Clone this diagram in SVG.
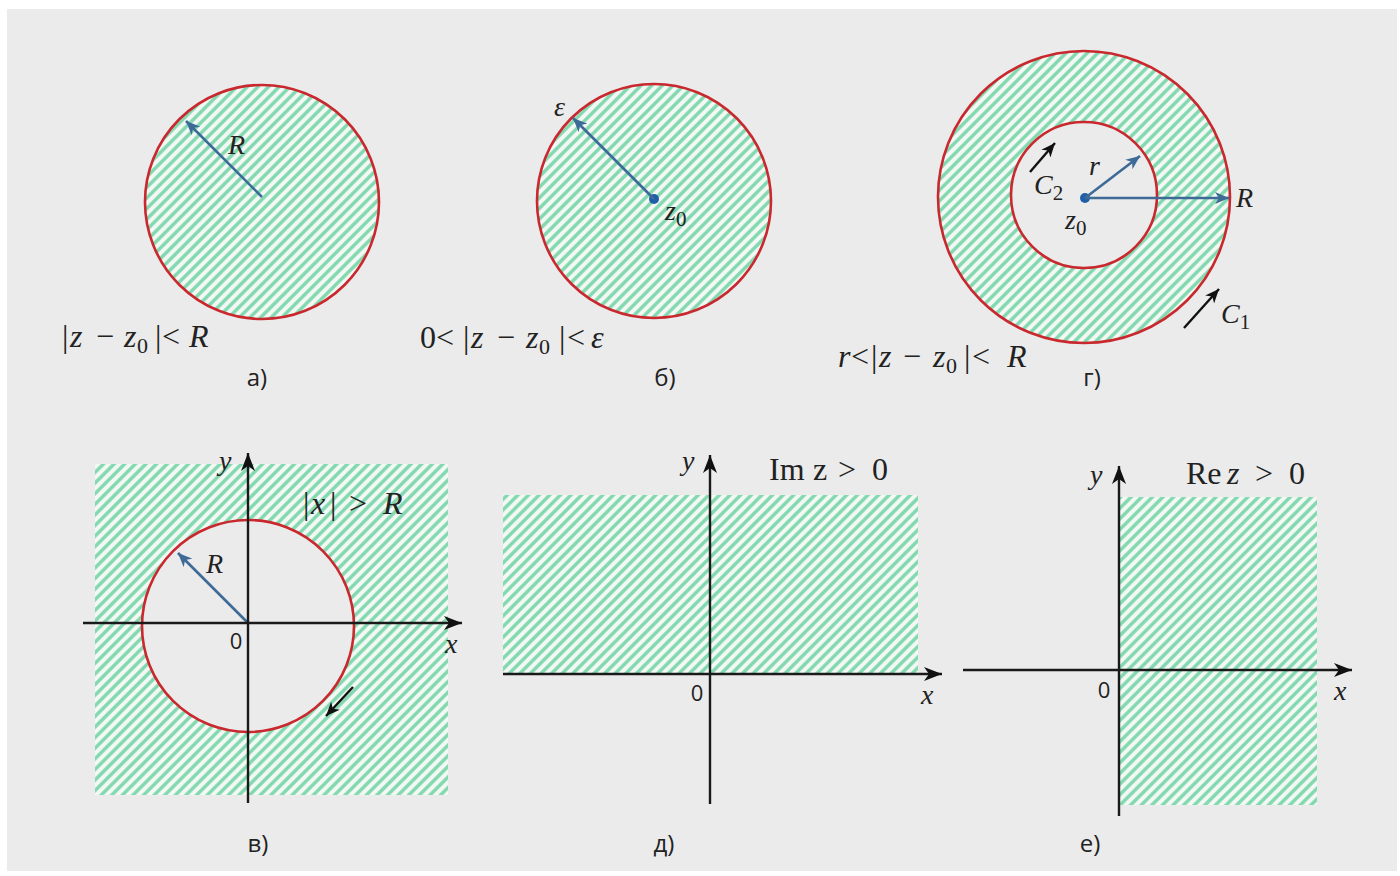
<svg xmlns="http://www.w3.org/2000/svg" width="1400" height="876" viewBox="0 0 1400 876">
<defs>
<pattern id="hatch" patternUnits="userSpaceOnUse" width="7.5" height="7.5" patternTransform="rotate(45)">
<rect width="7.5" height="7.5" fill="#f4f8f5"/>
<line x1="3.75" y1="0" x2="3.75" y2="7.5" stroke="#80d8ae" stroke-width="3.4"/>
</pattern>
<marker id="ab" markerUnits="userSpaceOnUse" markerWidth="16" markerHeight="12" refX="14" refY="6" orient="auto">
<path d="M0,0 L14,6 L0,12 L4,6 z" fill="#3d6a96"/>
</marker>
<marker id="ak" markerUnits="userSpaceOnUse" markerWidth="16" markerHeight="12" refX="14" refY="6" orient="auto">
<path d="M0,0 L14,6 L0,12 L4,6 z" fill="#111"/>
</marker>
<marker id="ax" markerUnits="userSpaceOnUse" markerWidth="20" markerHeight="14" refX="18" refY="7" orient="auto">
<path d="M0,0 L18,7 L0,14 L5,7 z" fill="#111"/>
</marker>
</defs>
<style>
.red{fill:url(#hatch);stroke:#c9282e;stroke-width:2.6}
.redg{fill:#ebebeb;stroke:#c9282e;stroke-width:2.6}
.blue{stroke:#3d6a96;stroke-width:2.6;fill:none;marker-end:url(#ab)}
.blk{stroke:#111;stroke-width:2.4;fill:none;marker-end:url(#ak)}
.axis{stroke:#1a1a1a;stroke-width:2.4;fill:none;marker-end:url(#ax)}
.m{font-family:"Liberation Serif",serif;font-size:28px;fill:#222}
.f{font-family:"Liberation Serif",serif;font-size:32px;fill:#222}
.i{font-style:italic}
.sub{font-size:21px}
.fs{font-size:22px}
.lab{font-family:"Open Sans","Liberation Sans",sans-serif;font-size:24px;fill:#222;text-anchor:middle}
.zero{font-family:"Open Sans","Liberation Sans",sans-serif;font-size:22px;fill:#222;text-anchor:middle}
</style>
<rect x="0" y="0" width="1400" height="876" fill="#ffffff"/>
<rect x="7" y="9" width="1390" height="862" fill="#ebebeb"/>

<g id="panel-a">
<circle class="red" cx="262" cy="202" r="117"/>
<text class="m i" x="228" y="154" font-size="27">R</text>
<text class="f" y="347"><tspan x="62">|</tspan><tspan x="70" class="i">z</tspan><tspan x="96">−</tspan><tspan x="124" class="i">z</tspan><tspan x="137" class="fs" dy="6">0</tspan><tspan x="155" dy="-6">|</tspan><tspan x="162">&lt;</tspan><tspan x="189" class="i">R</tspan></text>
<text class="lab" x="257" y="386">а)</text>
</g>

<g id="panel-b">
<circle class="red" cx="654" cy="201" r="117"/>
<circle cx="654" cy="199" r="5" fill="#1f5fa8"/>
<text class="m i" x="554" y="116" font-size="27">ε</text>
<text class="m" x="665" y="220"><tspan class="i">z</tspan><tspan class="sub" dy="6">0</tspan></text>
<text class="f" y="348"><tspan x="420">0</tspan><tspan x="436">&lt;</tspan><tspan x="463">|</tspan><tspan x="471" class="i">z</tspan><tspan x="497">−</tspan><tspan x="526" class="i">z</tspan><tspan x="539" class="fs" dy="6">0</tspan><tspan x="559" dy="-6">|</tspan><tspan x="567">&lt;</tspan><tspan x="591" class="i">ε</tspan></text>
<text class="lab" x="665" y="386">б)</text>
</g>

<g id="panel-g">
<circle class="red" cx="1084" cy="197" r="146"/>
<circle class="redg" cx="1084" cy="195" r="73"/>
<circle cx="1085" cy="198" r="5" fill="#1f5fa8"/>
<text class="m i" x="1089" y="175" font-size="27">r</text>
<text class="m i" x="1034" y="194" font-size="27">C<tspan class="sub" font-style="normal" dy="6">2</tspan></text>
<text class="m" x="1065" y="229"><tspan class="i">z</tspan><tspan class="sub" dy="6">0</tspan></text>
<text class="m i" x="1236" y="207" font-size="27">R</text>
<text class="m i" x="1221" y="323" font-size="27">C<tspan class="sub" font-style="normal" dy="6">1</tspan></text>
<text class="f" y="367"><tspan x="838" class="i">r</tspan><tspan x="851">&lt;</tspan><tspan x="871">|</tspan><tspan x="879" class="i">z</tspan><tspan x="903">−</tspan><tspan x="933" class="i">z</tspan><tspan x="946" class="fs" dy="6">0</tspan><tspan x="964" dy="-6">|</tspan><tspan x="972">&lt;</tspan><tspan x="1007" class="i">R</tspan></text>
<text class="lab" x="1092" y="386">г)</text>
</g>

<g id="panel-v">
<rect x="95" y="464" width="353" height="331" fill="url(#hatch)"/>
<circle class="redg" cx="248" cy="626" r="106"/>
<text class="f" y="514"><tspan x="303">|</tspan><tspan x="311" class="i">x</tspan><tspan x="330">|</tspan><tspan x="349">&gt;</tspan><tspan x="383" class="i">R</tspan></text>
<text class="m i" x="206" y="573" font-size="27">R</text>
<text class="zero" x="236" y="649">0</text>
<text class="m i" x="445" y="653">x</text>
<text class="m i" x="219" y="470">y</text>
</g>

<g id="panel-d">
<rect x="503" y="495" width="415" height="178" fill="url(#hatch)"/>
<text class="f" y="480"><tspan x="769">Im</tspan><tspan x="813">z</tspan><tspan x="838">&gt;</tspan><tspan x="872">0</tspan></text>
<text class="zero" x="697" y="701">0</text>
<text class="m i" x="921" y="704">x</text>
<text class="m i" x="682" y="470">y</text>
</g>

<g id="panel-e">
<rect x="1119" y="497" width="198" height="308" fill="url(#hatch)"/>
<text class="f" y="484"><tspan x="1186">Re</tspan><tspan x="1227" class="i">z</tspan><tspan x="1255">&gt;</tspan><tspan x="1289">0</tspan></text>
<text class="zero" x="1104" y="698">0</text>
<text class="m i" x="1334" y="700">x</text>
<text class="m i" x="1090" y="484">y</text>
</g>

<g id="labels-bottom">
<text class="lab" x="258" y="852">в)</text>
<text class="lab" x="664" y="852">д)</text>
<text class="lab" x="1090" y="852">е)</text>
</g>

<g id="connectors">
<line class="blue" x1="262" y1="197" x2="186" y2="121"/>
<line class="blue" x1="654" y1="199" x2="573" y2="118"/>
<line class="blue" x1="1085" y1="198" x2="1140" y2="156"/>
<line class="blue" x1="1085" y1="198" x2="1229" y2="198"/>
<line class="blk" x1="1030" y1="172" x2="1055" y2="143"/>
<line class="blk" x1="1184" y1="328" x2="1219" y2="289"/>
<line class="blue" x1="248" y1="623" x2="178" y2="553"/>
<line class="blk" x1="353" y1="687" x2="326" y2="716"/>
<line class="axis" x1="83" y1="623" x2="462" y2="623"/>
<line class="axis" x1="248" y1="803" x2="248" y2="453"/>
<line class="axis" x1="503" y1="674" x2="942" y2="674"/>
<line class="axis" x1="710" y1="804" x2="710" y2="455"/>
<line class="axis" x1="963" y1="670" x2="1352" y2="670"/>
<line class="axis" x1="1119" y1="816" x2="1119" y2="466"/>
</g>
</svg>
